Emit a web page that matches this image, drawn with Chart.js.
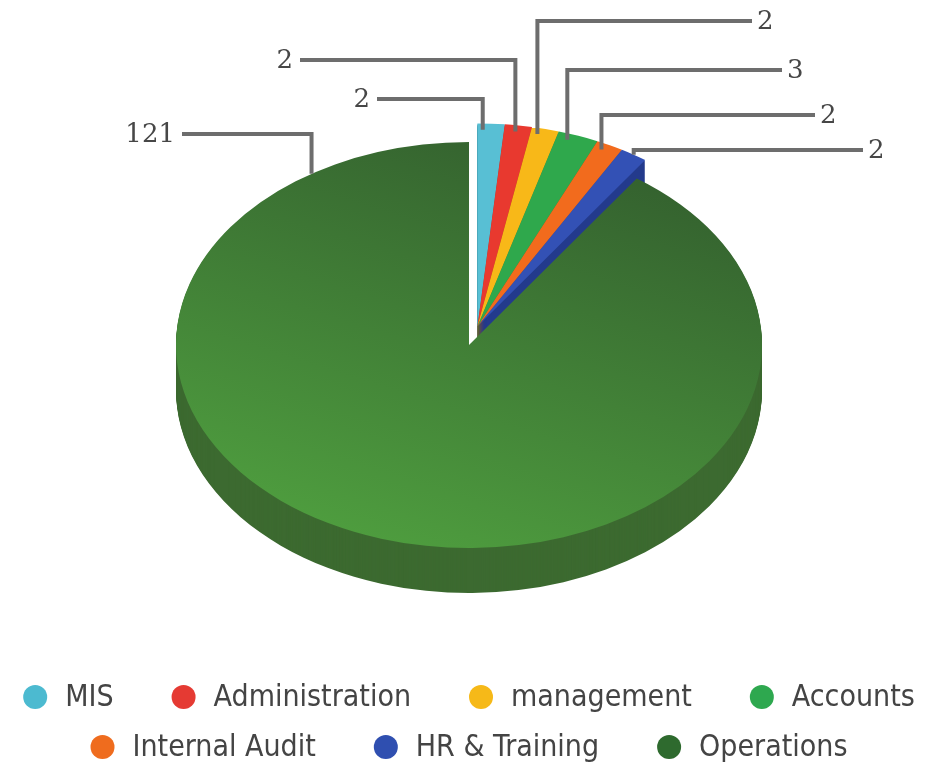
<!DOCTYPE html>
<html lang="en">
<head>
<meta charset="UTF-8">
<meta name="viewport" content="width=device-width, initial-scale=1.0">
<title>Staff by Department</title>
<script src="https://cdn.jsdelivr.net/npm/chart.js"></script>
<style>
  html, body { margin: 0; padding: 0; background: #fff; }
  #wrap { width: 932px; height: 766px; }
</style>
</head>
<body>
<div id="wrap"><canvas id="deptChart"></canvas></div>
<script>
const departments = ['MIS', 'Administration', 'management', 'Accounts', 'Internal Audit', 'HR & Training', 'Operations'];
const staff = [2, 2, 2, 3, 2, 2, 121];

const sliceColors = ['#58bfd4', '#e8392f', '#f8b818', '#2fa84c', '#f26b1d', '#3351b5', '#3f7a35'];
const sideColors = ['#3b8d9c', '#a82a23', '#b98a12', '#217a37', '#b04e15', '#233a8c', '#3c6a30'];
const legendColors = ['#4cbad0', '#e53a33', '#f6b918', '#2ea84f', '#ef6c1e', '#2f4fb0', '#2e6a2e'];
const legendRows = [[0, 1, 2, 3], [4, 5, 6]];

// value callouts: where on the slice the leader starts (fraction along the arc,
// inset from the rim), the height of the horizontal leg and where it ends
const calloutAlong = [0.2, 0.43, 0.27, 0.29, 0.32, 0.5, 0.9];
const calloutInset = [9, 9, 9, 9, 9, 0, 0];
const calloutLevel = [99, 60, 21, 70, 115, 150, 134];
const calloutEnd = [377, 300, 752, 782, 815, 863, 182];

const TILT = 0.693;    // vertical squash of the disc
const DEPTH = 45;      // thickness of the disc in px
const RADIUS = 293;
const EXPLODE = 28;    // how far the small slices are pulled out, as one block

const LABEL_FONT = '26px "DejaVu Serif"';
const LEGEND_FONT = '30px "DejaVu Sans Condensed", "Liberation Sans Narrow", sans-serif';

function squash(ctx, c) {
  ctx.translate(c.x, c.y);
  ctx.scale(1, TILT);
  ctx.translate(-c.x, -c.y);
}

function biggest() {
  return staff.indexOf(Math.max(...staff));
}

function anchorPoint(arc, center, along, inset) {
  const a = arc.startAngle + along * (arc.endAngle - arc.startAngle);
  const rho = arc.outerRadius - inset;
  const ux = arc.x + Math.cos(a) * rho;
  const uy = arc.y + Math.sin(a) * rho;
  return { x: ux, y: center.y + (uy - center.y) * TILT };
}

const pie3d = {
  id: 'pie3d',
  afterDatasetUpdate(chart, args) {
    // move every slice but the big one outwards together
    const arcs = args.meta.data;
    const big = biggest();
    const ring = arcs[big];
    const group = arcs.filter((a, i) => i !== big);
    const mid = (group[0].startAngle + group[group.length - 1].endAngle) / 2;
    group.forEach(a => {
      a.x = ring.x + Math.cos(mid) * EXPLODE;
      a.y = ring.y + Math.sin(mid) * EXPLODE;
    });
  },
  beforeDatasetDraw(chart, args) {
    const ctx = chart.ctx;
    const arcs = args.meta.data;
    const center = arcs[biggest()];
    // stack darker copies downwards to build the side wall
    for (let d = DEPTH; d > 0; d--) {
      ctx.save();
      ctx.translate(0, d);
      squash(ctx, center);
      arcs.forEach((arc, i) => {
        const wall = Object.create(arc);
        wall.options = Object.assign({}, arc.options, { backgroundColor: sideColors[i], borderWidth: 0 });
        arc.draw.call(wall, ctx);
      });
      ctx.restore();
    }
    ctx.save();
    squash(ctx, center);
  },
  afterDatasetDraw(chart) {
    chart.ctx.restore();
  },
  afterDatasetsDraw(chart) {
    const ctx = chart.ctx;
    const arcs = chart.getDatasetMeta(0).data;
    const center = arcs[biggest()];
    ctx.save();
    ctx.strokeStyle = '#6d6d6d';
    ctx.lineWidth = 4;
    ctx.font = LABEL_FONT;
    ctx.fillStyle = '#474747';
    ctx.textBaseline = 'middle';
    arcs.forEach((arc, i) => {
      const p = anchorPoint(arc, center, calloutAlong[i], calloutInset[i]);
      const y = calloutLevel[i];
      const x = calloutEnd[i];
      ctx.beginPath();
      ctx.moveTo(p.x, p.y);
      ctx.lineTo(p.x, y);
      ctx.lineTo(x, y);
      ctx.stroke();
      const left = x < p.x;
      ctx.textAlign = left ? 'right' : 'left';
      ctx.fillText(String(staff[i]), left ? x - 7 : x + 5, y + 1);
    });
    ctx.restore();
  }
};

// two centred rows of dot + name under the pie
const rowLegend = {
  id: 'rowLegend',
  afterDraw(chart) {
    const ctx = chart.ctx;
    const area = chart.chartArea;
    const cx = chart.getDatasetMeta(0).data[biggest()].x;
    ctx.save();
    ctx.font = LEGEND_FONT;
    ctx.textBaseline = 'middle';
    ctx.textAlign = 'left';
    legendRows.forEach((row, r) => {
      const y = area.bottom + 35 + r * 50;
      const widths = row.map(i => ctx.measureText(departments[i]).width);
      const total = 12 + widths.reduce((s, w) => s + 30 + w, 0) + 70 * (row.length - 1);
      let x = cx - total / 2 + 12;
      row.forEach((i, k) => {
        ctx.fillStyle = legendColors[i];
        ctx.beginPath();
        ctx.arc(x, y, 12, 0, Math.PI * 2);
        ctx.fill();
        ctx.fillStyle = '#444';
        ctx.fillText(departments[i], x + 30, y + 1);
        x += 30 + widths[k] + 70;
      });
    });
    ctx.restore();
  }
};

const ctx = document.getElementById('deptChart').getContext('2d');

new Chart(ctx, {
  type: 'pie',
  data: {
    labels: departments,
    datasets: [{
      data: staff,
      radius: RADIUS,
      borderWidth: 0,
      backgroundColor: (c) => {
        const i = c.dataIndex;
        const area = c.chart.chartArea;
        if (i !== biggest() || !area) return sliceColors[i];
        const cx = (area.left + area.right) / 2;
        const cy = (area.top + area.bottom) / 2;
        const g = c.chart.ctx.createLinearGradient(cx + 0.45 * RADIUS, cy - RADIUS, cx - 0.45 * RADIUS, cy + RADIUS);
        g.addColorStop(0, '#335f2e');
        g.addColorStop(1, '#4f9f3f');
        return g;
      }
    }]
  },
  options: {
    responsive: true,
    maintainAspectRatio: false,
    animation: false,
    events: [],
    layout: { padding: { top: 28, bottom: 104, left: 6, right: 0 } },
    plugins: {
      tooltip: { enabled: false },
      legend: { display: false }
    }
  },
  plugins: [pie3d, rowLegend]
});
</script>
</body>
</html>
